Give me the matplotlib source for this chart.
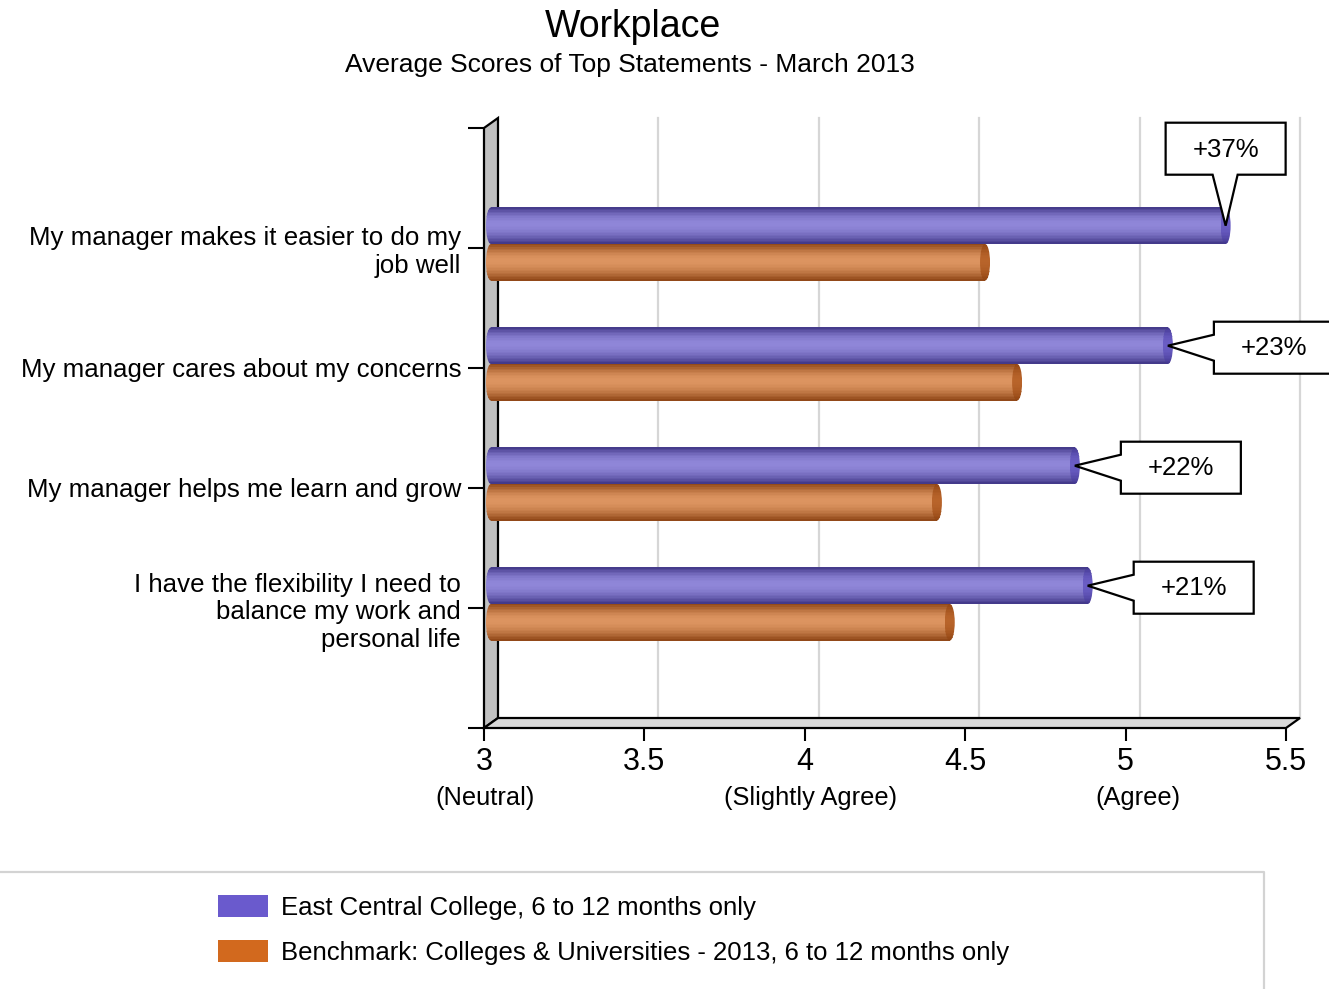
import numpy as np
import matplotlib.pyplot as plt
from matplotlib.patches import Polygon, Rectangle, Ellipse
from matplotlib.transforms import ScaledTranslation, IdentityTransform
from matplotlib.colors import to_rgb

plt.rcParams['font.family'] = ['Liberation Sans', 'DejaVu Sans']

# data
statements = ["My manager makes it easier to do my\njob well",
              "My manager cares about my concerns",
              "My manager helps me learn and grow",
              "I have the flexibility I need to\nbalance my work and\npersonal life"]
college = [5.29, 5.11, 4.82, 4.86]
benchmark = [4.54, 4.64, 4.39, 4.43]
changes = ['+37%', '+23%', '+22%', '+21%']
xticks = [3, 3.5, 4, 4.5, 5, 5.5]
anchor_vals = [3, 4, 5]
anchor_labels = ['(Neutral)', '(Slightly Agree)', '(Agree)']
series_names = ['East Central College, 6 to 12 months only',
                'Benchmark: Colleges & Universities - 2013, 6 to 12 months only']

W, H, DPI = 1329, 989, 100
fig = plt.figure(figsize=(W / DPI, H / DPI), dpi=DPI)
ax = fig.add_axes([484 / W, 1 - 728 / H, 802 / W, 600 / H])
ax.set_xlim(3, 5.5)
ax.set_ylim(5, 0)
for s in ax.spines.values():
    s.set_visible(False)
ax.patch.set_visible(False)

pxx = 802 / 2.5
pxy = 600 / 5
bdx, bdy = 14 / pxx, -10 / pxy   # depth of the fake 3d box
x0, x1 = 3, 5.5

# left wall, floor and back gridlines
ax.add_patch(Polygon([(x0, 0), (x0, 5), (x0 + bdx, 5 + bdy), (x0 + bdx, bdy)],
                     closed=True, fc='#c0c0c0', ec='black', lw=1.6, zorder=1, clip_on=False))
ax.add_patch(Polygon([(x0, 5), (x1, 5), (x1 + bdx, 5 + bdy), (x0 + bdx, 5 + bdy)],
                     closed=True, fc='#d9d9d9', ec='black', lw=1.6, zorder=1, clip_on=False))
for xv in xticks[1:]:
    ax.plot([xv + bdx, xv + bdx], [bdy, 5 + bdy], color='#d6d6d6', lw=1.6, zorder=0.5, clip_on=False)

# bars at mid depth
bar_tr = ax.transData + ScaledTranslation(7 / DPI, 4 / DPI, fig.dpi_scale_trans)
h = 0.305
n = 24
cap_w = 10 / pxx


def profile(n):
    t = (np.arange(n) + 0.5) / n
    s = np.where(t < 0.45, np.sin(np.pi / 2 * t / 0.45), np.cos(np.pi / 2 * (t - 0.45) / 0.55))
    return np.clip(s, 0, 1) ** 0.9


def shades(dark, light, n):
    d, l = np.array(to_rgb(dark)), np.array(to_rgb(light))
    s = profile(n)
    return [tuple(d + (l - d) * k) for k in s]


def striped(left, width, yc, dark, light, clip=None, z=3):
    ys = yc - h / 2 + (np.arange(n) + 0.5) * h / n
    bars = ax.barh(ys, width, left=left, height=h / n * 1.08, color=shades(dark, light, n),
                   lw=0, transform=bar_tr, zorder=z)
    if clip is not None:
        for b in bars:
            b.set_clip_path(clip)


def cylinder(v, yc, dark, light, cap_dark, cap_light):
    # rounded left end
    lend = Ellipse((x0, yc), cap_w, h, fc='none', ec='none', transform=bar_tr)
    ax.add_patch(lend)
    striped(x0 - cap_w / 2, cap_w, yc, dark, light, clip=lend, z=3)
    striped(x0, v - x0, yc, dark, light, z=3.1)
    cap = Ellipse((v, yc), cap_w, h, fc='none', ec='none', transform=bar_tr)
    ax.add_patch(cap)
    striped(v - cap_w / 2, cap_w, yc, cap_dark, cap_light, clip=cap, z=3.2)


for i, (c, b) in enumerate(zip(college, benchmark)):
    pos = i + 1
    cylinder(c, pos - h / 2, '#3e3484', '#8f86d8', '#41368e', '#6a5dc4')
    cylinder(b, pos + h / 2, '#8c4313', '#dc9460', '#8e4312', '#b8642a')

# callouts pointing at the college bar ends
for i, (c, lab) in enumerate(zip(college, changes)):
    tx, ty = bar_tr.transform((c, i + 1 - h / 2))
    if i == 0:
        pts = [(tx, ty), (tx + 12, ty + 51), (tx + 60, ty + 51), (tx + 60, ty + 103),
               (tx - 60, ty + 103), (tx - 60, ty + 51), (tx - 13, ty + 51)]
        cx, cy = tx, ty + 76
    else:
        pts = [(tx, ty), (tx + 46, ty + 11), (tx + 46, ty + 24), (tx + 166, ty + 24),
               (tx + 166, ty - 28), (tx + 46, ty - 28), (tx + 46, ty - 15)]
        cx, cy = tx + 106, ty - 2
    ax.add_patch(Polygon(pts, closed=True, fc='white', ec='black', lw=1.6,
                         transform=IdentityTransform(), zorder=6, clip_on=False))
    ax.text(cx, cy, lab, transform=IdentityTransform(), ha='center', va='center',
            fontsize=18.5, zorder=7)

# axes ticks and labels
ax.set_xticks(xticks)
ax.set_xticklabels([f'{v:g}' for v in xticks], fontsize=22)
ax.set_yticks(range(6))
ax.set_yticklabels([''] + statements + [''], fontsize=18.6)
ax.tick_params(axis='x', length=9.5, width=1.5, pad=4)
ax.tick_params(axis='y', length=11.5, width=1.5, pad=5)

for v, lab, off in zip(anchor_vals, anchor_labels, [1, 6, 12]):
    ax.annotate(lab, (v, 5), xytext=(off, -70), textcoords='offset pixels',
                ha='center', va='center', fontsize=18.3, annotation_clip=False)

# titles
fig.text(633 / W, 1 - 27 / H, 'Workplace', fontsize=27, ha='center', va='center')
fig.text(630 / W, 1 - 65 / H, 'Average Scores of Top Statements - March 2013',
         fontsize=19, ha='center', va='center')

# legend box
fig.add_artist(plt.Line2D([0, 1264 / W, 1264 / W], [1 - 872 / H, 1 - 872 / H, 0],
                          color='#d3d3d3', lw=1.6, transform=fig.transFigure))
for k, (name, col) in enumerate(zip(series_names, ['slateblue', 'chocolate'])):
    ymid = 906 + 45 * k
    fig.add_artist(Rectangle((218 / W, 1 - (ymid + 11) / H), 50 / W, 22 / H,
                             fc=col, ec='none', transform=fig.transFigure))
    fig.text(281 / W, 1 - (ymid + 2) / H, name, fontsize=18.5, ha='left', va='center')

fig.savefig('out.png', dpi=DPI)
